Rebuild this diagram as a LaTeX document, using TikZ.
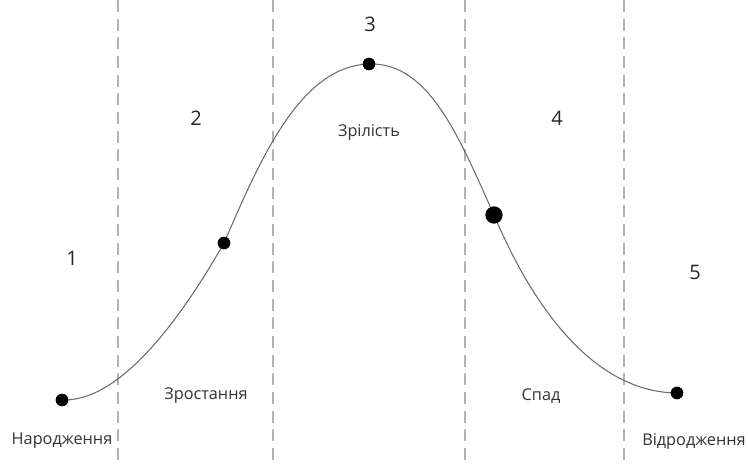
\documentclass[tikz,border=0pt]{standalone}
\usepackage{fontspec}
\setmainfont{Open Sans}
\begin{document}
\begin{tikzpicture}[x=0.75pt,y=-0.75pt,
  divider/.style={draw=gray!60,line width=0.9pt,dash pattern=on 9pt off 5pt},
  curveline/.style={draw=gray!85!black,line width=0.8pt},
  dotmark/.style={circle,fill=black,inner sep=0pt,minimum size=#1},
  num/.style={font=\fontsize{15}{18}\selectfont,text=black!85},
  lbl/.style={font=\fontsize{12.2}{14}\selectfont,text=black!80}]
\useasboundingbox (0,0) rectangle (748,464);
% dividers
\foreach \n/\x in {a/118,b/273,c/465,d/624}{
  \coordinate (\n top) at (\x,0);
  \coordinate (\n bot) at (\x,464);
  \draw[divider] (\n top) -- (\n bot);
}
% points on the curve
\coordinate (p1) at (62,400);
\coordinate (p2) at (224,243);
\coordinate (p3) at (369,64);
\coordinate (p4) at (494,215);
\coordinate (p5) at (677,393);
% curve
\draw[curveline] (p1) .. controls (120,402) and (180,320) .. (p2)
  .. controls (260,160) and (300,66) .. (p3)
  .. controls (430,62) and (460,140) .. (p4)
  .. controls (530,300) and (590,392) .. (p5);
\node[dotmark=9.5pt] (d1) at (p1) {};
\node[dotmark=9.5pt] (d2) at (p2) {};
\node[dotmark=9.5pt] (d3) at (p3) {};
\node[dotmark=13pt] (d4) at (p4) {};
\node[dotmark=9.5pt] (d5) at (p5) {};
% numbers
\node[num] (n1) at (72,258) {1};
\node[num] (n2) at (196,118) {2};
\node[num] (n3) at (370,24) {3};
\node[num] (n4) at (557,118) {4};
\node[num] (n5) at (695,272) {5};
% labels
\node[lbl] (l1) at (62,441) {Народження};
\node[lbl] (l2) at (206,396) {Зростання};
\node[lbl] (l3) at (369,132) {Зрілість};
\node[lbl] (l4) at (541,396) {Спад};
\node[lbl] (l5) at (694,441) {Відродження};
\end{tikzpicture}
\end{document}
